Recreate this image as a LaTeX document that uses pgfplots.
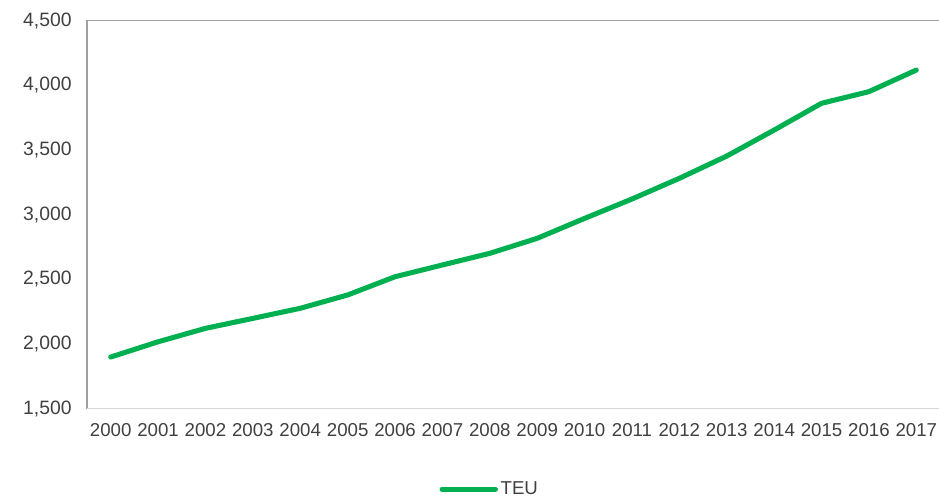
\documentclass[border=0pt]{standalone}
\usepackage{fontspec}
\setmainfont{Liberation Sans}
\usepackage{pgfplots}
\pgfplotsset{compat=1.18}
\definecolor{teugreen}{RGB}{0,176,80}
\definecolor{labgray}{RGB}{64,64,64}
\definecolor{boxgray}{RGB}{160,160,160}
\definecolor{botgray}{RGB}{215,215,215}
\begin{document}
\begin{tikzpicture}
\path[use as bounding box] (-65.25pt,-70.1pt) rectangle (639pt,306.4pt);
\begin{axis}[
  at={(0,0)}, anchor=south west,
  scale only axis,
  width=639.75pt, height=291pt,
  xmin=1999.5, xmax=2017.5,
  ymin=1500, ymax=4500,
  xtick={2000,2001,...,2017},
  ytick={1500,2000,...,4500},
  major tick length=0pt,
  axis line style={draw=none},
  tick label style={font=\fontsize{14}{16}\selectfont, text=labgray},
  y tick label style={font=\fontsize{14.5}{16}\selectfont, xshift=-8pt},
  /pgf/number format/assume math mode=true,
  /pgf/number format/1000 sep={,},
  x tick label style={/pgf/number format/1000 sep={}, yshift=-8pt},
  legend style={at={(0.413,-0.208)}, anchor=west, draw=none, fill=none,
    font=\fontsize{14}{16}\selectfont, text=labgray, inner sep=0pt},
  legend image code/.code={\draw[#1] (0pt,0pt) -- (40pt,0pt);},
  clip=false,
]
\addplot[teugreen, line width=3.8pt, line join=round, line cap=round] coordinates {
(2000,1898) (2001,2016) (2002,2120) (2003,2197) (2004,2275)
(2005,2378) (2006,2519) (2007,2610) (2008,2700) (2009,2816)
(2010,2970) (2011,3120) (2012,3280) (2013,3452) (2014,3653)
(2015,3860) (2016,3950) (2017,4117)
};
\addlegendentry{TEU}
\draw[boxgray, line width=1pt] (rel axis cs:0,0) -- (rel axis cs:0,1) -- (rel axis cs:1,1);
\draw[botgray, line width=1pt] (rel axis cs:0,0) -- (rel axis cs:1,0);
\end{axis}
\end{tikzpicture}
\end{document}
